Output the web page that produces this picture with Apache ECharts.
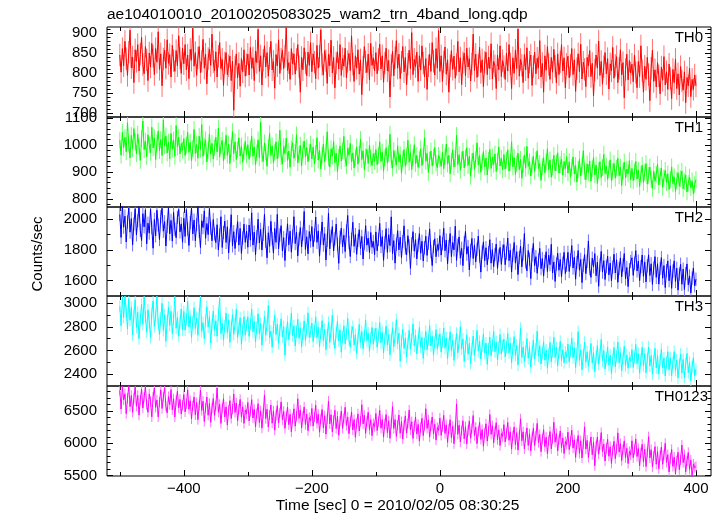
<!DOCTYPE html>
<html><head><meta charset="utf-8">
<script src="https://cdn.jsdelivr.net/npm/echarts@6/dist/echarts.min.js"></script>
<style>html,body{margin:0;padding:0;background:#fff}#c{width:723px;height:516px}</style>
</head><body><div id="c"></div>
<script>
// time bins: first bin and bin width (sec)
const T_START = -500, T_STEP = 2;

const th0 = [
845,802,861,818,879,836,794,852,907,813,840,776,858,829,871,805,847,889,821,798,
866,833,781,850,815,874,842,796,861,827,903,809,848,768,835,857,812,883,824,846,
790,869,831,804,856,818,893,837,799,862,
823,871,808,845,786,859,832,912,817,851,794,838,866,801,829,884,812,847,773,836,
860,819,897,828,805,853,790,842,876,811,834,769,825,851,796,818,842,781,830,707,
815,848,788,824,767,836,803,858,792,821,
847,795,864,812,838,781,855,826,909,804,843,770,832,868,815,851,792,837,879,808,
829,762,846,818,883,799,835,857,811,842,914,806,826,784,861,823,848,797,834,871,
816,752,839,808,863,825,793,852,819,876,
803,848,827,786,869,812,842,908,821,795,856,831,774,847,818,882,800,839,763,825,
853,810,871,794,836,817,862,788,829,849,806,893,822,779,843,812,858,797,833,746,
815,866,828,801,847,783,874,819,838,805,
851,798,834,872,810,843,777,825,862,805,831,740,819,854,793,838,881,812,847,786,
827,866,803,839,771,822,857,811,901,796,834,816,852,779,843,808,868,825,790,836,
759,818,847,804,876,829,795,861,812,906,
804,843,779,828,865,797,833,752,818,856,809,842,787,821,879,803,838,771,826,850,
793,862,815,836,780,823,897,806,847,789,819,864,801,833,766,827,852,796,840,811,
873,785,829,818,761,845,808,868,791,831,
816,784,849,805,871,823,761,838,799,857,811,910,792,834,819,776,846,808,863,787,
827,845,769,816,852,798,837,813,881,790,824,752,843,807,866,821,784,839,802,859,
817,775,848,796,828,871,805,838,763,822,
842,788,819,861,796,833,754,811,848,803,872,785,827,809,766,839,818,856,791,824,
743,807,845,812,880,794,829,772,816,851,798,836,760,823,805,864,787,819,841,776,
812,858,795,826,738,809,847,783,831,800,
822,778,845,801,763,829,791,868,806,752,817,784,839,796,731,812,857,779,808,765,
826,793,748,815,782,841,770,803,759,822,787,736,809,776,834,761,798,745,816,780,
757,803,726,789,768,812,741,784,759,795,
768];
const th1 = [
1018,962,1047,991,1029,975,1083,1004,952,1036,987,1061,1012,968,1041,995,943,1024,1089,983,
1015,957,1038,1001,972,1066,989,1027,946,1008,1052,979,1021,961,1093,997,1034,970,1011,949,
1043,985,1019,958,1072,993,1030,967,1006,981,
1024,961,999,1047,973,1010,942,987,1058,969,1002,951,1033,984,1076,958,995,1019,937,981,
1041,966,1006,948,990,1029,974,1063,955,998,1017,941,979,1036,962,1004,931,987,1050,968,
1012,946,983,1027,959,997,936,975,1014,963,
1001,947,985,1032,958,993,926,971,1019,952,1084,966,939,1008,975,921,989,1043,961,997,
935,973,1012,948,982,1055,957,929,994,968,1026,943,978,917,986,1009,951,972,1038,934,
965,999,922,981,1015,956,991,938,974,1003,
948,992,931,969,1027,944,981,912,963,1004,938,975,1049,952,918,986,959,1013,934,970,
901,955,997,941,978,1032,949,923,988,962,1006,937,971,915,953,993,929,966,1021,946,
979,908,957,984,932,1000,951,924,968,940,
983,927,961,1012,939,974,903,952,990,933,968,1040,945,914,979,951,926,997,938,964,
895,948,983,921,957,1018,936,972,909,954,1001,931,962,917,946,986,924,959,1027,940,
969,898,944,978,922,955,991,933,916,962,
948,921,973,912,956,1004,929,962,893,941,982,918,950,1036,927,964,906,945,977,915,
953,990,924,958,884,939,971,910,947,1008,926,961,899,937,976,919,952,889,943,984,
913,955,928,967,902,940,993,922,951,908,
965,911,944,982,903,936,1012,919,954,891,932,970,908,947,876,928,963,914,995,921,
939,885,926,958,902,944,979,913,931,869,920,953,897,937,986,909,945,881,918,962,
904,934,971,895,927,948,888,939,912,957,
896,938,881,917,956,893,924,862,909,947,885,921,979,903,871,930,898,941,866,912,
954,889,926,857,905,938,880,916,966,894,922,873,909,945,868,901,932,877,914,951,
886,918,849,903,937,879,911,893,942,871,
913,868,901,939,874,907,846,892,925,861,898,931,855,887,918,872,839,903,866,891,
929,852,884,914,843,878,906,861,893,835,871,919,856,882,828,868,897,847,875,903,
838,864,889,826,858,881,842,867,819,853,
872];
const th2 = [
2029,1881,2093,1947,2019,1851,1981,2071,1915,2003,1833,1967,2067,1897,1989,2085,1927,1861,2035,1949,
2060,1839,1973,1909,2065,1943,1811,1997,1891,2057,1961,1867,2015,2070,1921,1983,1825,1953,2075,1903,
1991,1857,2043,1933,1879,2011,2062,1917,1969,1849,
2005,1887,2061,1935,1829,1977,2072,1903,1993,1859,1963,2091,1921,1815,1989,1945,2053,1875,1971,1899,
2068,1941,1859,1997,1903,1847,1963,1799,1897,2015,1816,1912,1986,1848,1950,1780,1894,2028,1826,1918,
1809,1893,1983,1831,1939,1777,1877,1967,1849,1921,
1817,1961,1863,2040,1831,1915,1769,1885,1999,1845,1933,1799,1901,2031,1855,1749,1911,1823,1985,1873,
1779,1939,1849,2030,1807,1897,1957,1793,1879,1731,1865,1969,1833,1921,1785,1889,2015,1841,1915,1761,
1871,1945,1819,1903,2049,1803,1885,1775,1919,1857,
1951,1821,1897,2013,1849,1923,1759,1877,1981,1831,1905,1735,1861,2039,1807,1889,1951,1793,1871,1967,
1837,1713,1883,1941,1819,1895,1789,1923,2023,1847,1757,1869,1979,1823,1899,1771,1861,1931,1809,1887,
1741,1843,1957,1831,1877,1783,1913,1817,1855,1769,
1916,1794,1868,1972,1822,1886,1732,1846,1938,1784,1898,1828,2014,1776,1860,1714,1836,1924,1800,1882,
1750,1854,1956,1812,1768,1892,1826,1680,1840,1918,1792,1866,1742,1830,1906,1778,1856,1728,1814,1888,
1764,1844,1936,1788,1698,1822,1872,1756,1834,1798,
1892,1766,1840,1940,1794,1864,1710,1822,1906,1756,1848,1800,1954,1732,1830,1884,1746,1810,1698,1846,
1920,1772,1822,1670,1796,1874,1744,1832,1722,1804,1890,1760,1656,1786,1852,1730,1814,1704,1782,1866,
1714,1802,1692,1770,1838,1680,1764,1816,1706,1792,
1834,1704,1780,1876,1730,1798,1656,1766,1848,1714,1788,1640,1750,1824,1690,1774,1906,1722,1664,1796,
1740,1614,1768,1842,1698,1756,1648,1734,1810,1678,1744,1630,1726,1788,1660,1766,1704,1836,1650,1722,
1596,1708,1778,1668,1738,1626,1714,1784,1646,1700,
1784,1660,1736,1828,1682,1752,1610,1718,1796,1668,1738,1588,1700,1770,1646,1726,1858,1678,1622,1746,
1690,1776,1632,1720,1564,1702,1790,1656,1730,1608,1692,1760,1638,1714,1600,1688,1772,1650,1736,1590,
1680,1748,1626,1702,1776,1612,1686,1562,1672,1724,
1749,1635,1713,1795,1663,1727,1601,1691,1767,1629,1722,1592,1696,1768,1634,1710,1576,1682,1756,1622,
1710,1578,1680,1750,1616,1698,1556,1666,1728,1600,1697,1551,1663,1729,1595,1681,1539,1643,1707,1577,
1675,1543,1647,1709,1573,1631,1521,1617,1683,1567,
1610];
const th3 = [
2974,2810,3050,2880,3060,2932,2782,3040,2856,2964,2732,2906,3030,2796,2924,2700,2870,2992,2822,3055,
2886,2754,2944,2840,2710,2916,3020,2802,2892,3058,2828,2734,2874,3000,2770,2902,2678,2850,2966,2812,
2932,2744,2862,3054,2788,2880,2722,2836,2952,2776,
2931,2773,2861,3017,2799,2889,2711,2843,2963,2787,2879,2729,2909,3053,2761,2835,2699,2857,2971,2797,
2887,2663,2819,2933,2771,2851,2721,2901,3040,2743,2831,2687,2807,2917,2753,2859,2669,2795,2903,2737,
2823,2949,2711,2787,2877,2653,2775,2887,2729,2813,
2885,2719,2823,2949,2757,2847,2671,2795,2911,2741,2829,2645,2777,2887,2729,2815,2981,2707,2763,2627,
2799,2895,2735,2825,2661,2771,2869,2715,2801,2559,2747,2845,2691,2783,2917,2725,2809,2637,2759,2865,
2703,2791,2629,2741,2851,2685,2775,2919,2711,2757,
2831,2675,2767,2885,2709,2797,2631,2743,2853,2685,2781,2607,2731,2837,2667,2763,2901,2697,2617,2753,
2847,2681,2775,2585,2715,2809,2657,2741,2871,2693,2627,2757,2803,2645,2733,2575,2703,2821,2669,2759,
2615,2721,2857,2683,2749,2593,2707,2795,2651,2737,
2789,2627,2719,2837,2665,2753,2579,2701,2807,2645,2735,2561,2689,2793,2631,2717,2861,2659,2747,2509,
2675,2779,2617,2705,2545,2661,2771,2613,2697,2825,2639,2729,2571,2685,2795,2627,2711,2533,2657,2761,
2605,2693,2811,2637,2719,2559,2669,2777,2615,2685,
2742,2586,2674,2790,2620,2706,2530,2652,2758,2598,2688,2516,2642,2746,2580,2670,2802,2612,2698,2506,
2630,2732,2568,2660,2490,2616,2722,2560,2650,2770,2594,2678,2526,2636,2740,2576,2662,2482,2612,2714,
2556,2646,2762,2588,2672,2518,2628,2736,2570,2640,
2696,2546,2630,2744,2580,2664,2494,2614,2718,2558,2646,2476,2604,2788,2540,2630,2506,2592,2700,2534,
2624,2458,2588,2686,2528,2612,2764,2550,2640,2484,2576,2674,2518,2604,2450,2568,2668,2504,2596,2712,
2540,2626,2470,2580,2678,2514,2608,2496,2586,2544,
2655,2503,2591,2705,2539,2623,2453,2573,2760,2517,2605,2435,2561,2669,2501,2589,2465,2551,2659,2493,
2583,2419,2545,2641,2483,2569,2693,2511,2599,2443,2533,2629,2475,2561,2405,2523,2625,2461,2551,2671,
2495,2581,2425,2533,2635,2471,2563,2449,2539,2505,
2607,2457,2541,2651,2489,2573,2407,2523,2627,2469,2573,2411,2531,2629,2467,2557,2399,2513,2617,2451,
2555,2399,2515,2611,2451,2537,2383,2497,2589,2435,2538,2384,2498,2590,2430,2520,2366,2480,2568,2408,
2524,2370,2486,2574,2412,2498,2344,2462,2538,2386,
2440];
const th0123 = [
6820,6530,6880,6672,6766,6458,6694,6885,6568,6740,6479,6703,6870,6573,6741,6435,6671,6841,6545,6715,
6880,6594,6480,6764,6648,6408,6718,6856,6556,6670,6409,6637,6827,6539,6711,6860,6573,6469,6723,6597,
6831,6519,6689,6407,6657,6805,6549,6679,6453,6587,
6755,6485,6609,6827,6527,6659,6377,6581,6717,6439,6632,6366,6582,6824,6508,6650,6338,6546,6716,6434,
6617,6325,6547,6693,6431,6581,6857,6479,6603,6307,6542,6690,6408,6564,6282,6512,6660,6384,6528,6762,
6477,6623,6345,6529,6679,6403,6565,6307,6515,6455,
6631,6347,6493,6675,6391,6525,6253,6463,6613,6319,6504,6234,6458,6748,6382,6528,6252,6434,6592,6310,
6500,6202,6432,6584,6314,6468,6640,6362,6494,6230,6410,6560,6288,6448,6176,6384,6534,6264,6420,6688,
6384,6514,6238,6416,6562,6290,6452,6194,6398,6344,
6539,6265,6407,6589,6307,6449,6171,6375,6523,6237,6427,6141,6377,6653,6301,6443,6175,6353,6511,6227,
6417,6125,6343,6499,6231,6385,6557,6275,6407,6147,6331,6485,6205,6367,6093,6307,6455,6189,6341,6597,
6299,6433,6155,6337,6481,6211,6365,6117,6305,6259,
6461,6197,6335,6511,6233,6367,6095,6301,6445,6163,6349,6077,6299,6567,6229,6367,6105,6281,6437,6155,
6335,6065,6279,6423,6157,6309,6513,6207,6333,6075,6263,6405,6141,6293,6033,6245,6387,6119,6273,6535,
6229,6363,6095,6269,6407,6145,6295,6049,6243,6199,
6389,6123,6259,6433,6151,6285,6015,6221,6363,6083,6264,5992,6214,6610,6138,6280,6020,6196,6348,6070,
6255,5987,6199,6345,6077,6229,6429,6119,6247,5993,6181,6323,6059,6211,5953,6159,6301,6033,6189,6445,
6138,6272,6008,6182,6318,6054,6206,5964,6152,6102,
6288,6020,6152,6322,6046,6178,5910,6116,6252,5976,6164,5894,6116,6378,6038,6176,5912,6090,6238,5966,
6146,5882,6090,6232,5966,6116,6308,6010,6134,5870,6065,6209,5947,6095,5837,6043,6181,5913,6069,6325,
6016,6150,5880,6058,6190,5932,6082,5840,6026,5978,
6172,5902,6030,6202,5924,6052,5780,5986,6120,5844,6039,5771,5987,6253,5909,6045,5779,5951,6097,5823,
6015,5651,5959,6097,5831,5975,6165,5869,5987,5725,5920,6062,5798,5946,5688,5892,6030,5762,5908,6160,
5863,5993,5729,5903,6037,5775,5923,5685,5873,5817,
6038,5776,5900,6066,5794,5918,5650,5854,5984,5708,5909,5639,5855,6101,5771,5901,5633,5803,5947,5675,
5872,5604,5808,5942,5674,5818,5998,5704,5822,5556,5766,5904,5640,5784,5526,5730,5860,5592,5742,5972,
5699,5825,5557,5727,5857,5595,5739,5483,5677,5623,
5640];

// 1-sigma error half-widths (counts/sec)
const errTH0 = 28, errTH1 = 31, errTH2 = 43, errTH3 = 51, errTH0123 = 79;

const panelNames = ['TH0','TH1','TH2','TH3','TH0123'];
const xTickLabels = [-400,-200,0,200,400];
const xMinorTicks = [-500,-300,-100,100,300];
const yTickLabels = [
  [700,750,800,850,900],
  [800,900,1000,1100],
  [1600,1800,2000],
  [2400,2600,2800,3000],
  [5500,6000,6500]];
const yMinorTicks = [
  [710,720,730,740,760,770,780,790,810,820,830,840,860,870,880,890,910],
  [780,820,840,860,880,920,940,960,980,1020,1040,1060,1080],
  [1700,1900],
  [2500,2700,2900],
  [5600,5700,5800,5900,6100,6200,6300,6400,6600,6700,6800]];
const yRanges = [[690,915],[770,1104],[1501,2078],[2298,3062],[5492,6887]];
const xRange = [-520, 423.5];

const titleText = 'ae104010010_20100205083025_wam2_trn_4band_long.qdp';
const xName = 'Time [sec] 0 = 2010/02/05 08:30:25';
const yName = 'Counts/sec';

const FONT = "'Liberation Sans', Arial, Helvetica, sans-serif";
const colors = ['#ff0000','#00ff00','#0000ff','#00ffff','#ff00ff'];
const lightColors = ['#ff7070','#70ff70','#7070ff','#70ffff','#ff70ff'];
const seriesValues = [th0, th1, th2, th3, th0123];
const seriesErr = [errTH0, errTH1, errTH2, errTH3, errTH0123];
const LEFT = 107, RIGHT = 711;
const edges = [27, 117, 207, 296, 386, 476];
const labelRight = [703, 703, 703, 703, 708];

const minusFmt = v => String(v).replace('-', '\u2212');
const plainFmt = v => String(v);

const grids = [], xAxes = [], yAxes = [], series = [], graphics = [];
for (let i = 0; i < 5; i++) {
  grids.push({left: LEFT, top: edges[i], width: RIGHT - LEFT, height: edges[i+1] - edges[i],
    show: true, borderColor: '#000', borderWidth: 1, backgroundColor: 'rgba(0,0,0,0)',
    containLabel: false, outerBoundsMode: 'none'});
  const xa = (pos, vals, len, showLab) => ({
    gridIndex: i, type: 'value', min: xRange[0], max: xRange[1], position: pos,
    axisLine: {show: false, onZero: false}, splitLine: {show: false},
    axisTick: {show: true, inside: true, length: len, customValues: vals, lineStyle: {color: '#000', width: 1}},
    axisLabel: {show: showLab, customValues: vals, margin: 5, fontSize: 15, color: '#000', fontFamily: FONT, formatter: minusFmt}
  });
  xAxes.push(xa('bottom', xTickLabels, 6, i === 4));
  xAxes.push(xa('bottom', xMinorTicks, 4, false));
  xAxes.push(xa('top', xTickLabels, 6, false));
  xAxes.push(xa('top', xMinorTicks, 4, false));
  const ya = (pos, vals, len, showLab) => ({
    gridIndex: i, type: 'value', min: yRanges[i][0], max: yRanges[i][1], position: pos,
    axisLine: {show: false, onZero: false}, splitLine: {show: false},
    axisTick: {show: true, inside: true, length: len, customValues: vals, lineStyle: {color: '#000', width: 1}},
    axisLabel: {show: showLab, customValues: vals, margin: 10, fontSize: 15, color: '#000', fontFamily: FONT, formatter: plainFmt}
  });
  yAxes.push(ya('left', yTickLabels[i], 6, true));
  yAxes.push(ya('left', yMinorTicks[i], 3.5, false));
  yAxes.push(ya('right', yTickLabels[i], 6, false));
  yAxes.push(ya('right', yMinorTicks[i], 3.5, false));
  const pts = seriesValues[i].map((v, k) => [T_START + T_STEP*k, v]);
  const err = seriesErr[i], light = lightColors[i];
  series.push({
    type: 'custom', xAxisIndex: 4*i, yAxisIndex: 4*i, z: 1, silent: true, animation: false, clip: true,
    data: pts,
    renderItem: (params, api) => {
      const t = api.value(0), v = api.value(1);
      const a = api.coord([t, v - err]), b = api.coord([t, v + err]);
      return {type: 'line', shape: {x1: a[0], y1: a[1], x2: b[0], y2: b[1]},
        style: {stroke: light, lineWidth: 1}};
    }
  });
  series.push({
    type: 'line', xAxisIndex: 4*i, yAxisIndex: 4*i, z: 2,
    data: pts,
    symbol: 'none', showSymbol: false, silent: true, animation: false, clip: true,
    lineStyle: {color: colors[i], width: 1}, itemStyle: {color: colors[i]}
  });
  graphics.push({type: 'text', x: labelRight[i], y: edges[i] + 10.5, silent: true, z: 10,
    style: {text: panelNames[i], fill: '#000', font: '15px ' + FONT, align: 'right', verticalAlign: 'middle'}});
}
graphics.push({type: 'text', x: LEFT, y: 15, silent: true,
  style: {text: titleText, fill: '#000', font: '15.5px ' + FONT, align: 'left', verticalAlign: 'middle'}});
graphics.push({type: 'text', x: 397.5, y: 505.5, silent: true,
  style: {text: xName, fill: '#000', font: '15.5px ' + FONT, align: 'center', verticalAlign: 'middle'}});
graphics.push({type: 'text', x: 38, y: 254, rotation: Math.PI/2, silent: true,
  style: {text: yName, fill: '#000', font: '15px ' + FONT, align: 'center', verticalAlign: 'middle'}});

const chart = echarts.init(document.getElementById('c'), null, {renderer: 'canvas'});
chart.setOption({
  animation: false,
  backgroundColor: '#fff',
  grid: grids, xAxis: xAxes, yAxis: yAxes, series: series,
  graphic: graphics
});
</script></body></html>
